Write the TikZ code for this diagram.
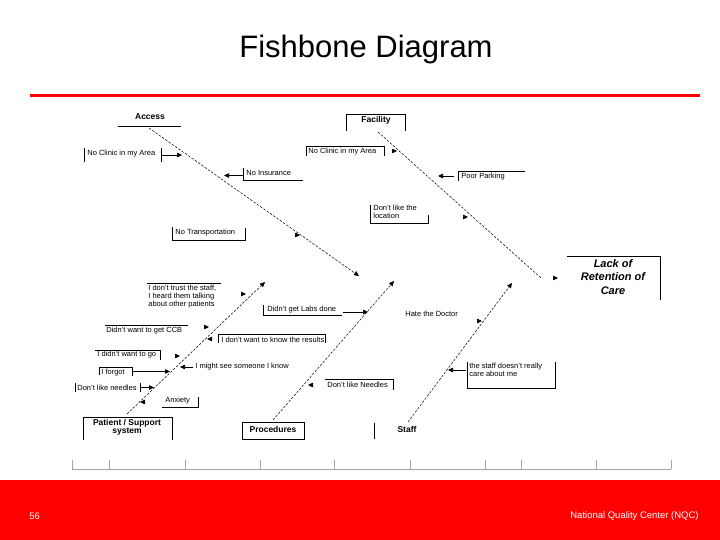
\documentclass[tikz,border=0pt]{standalone}
\usepackage{fontspec}
\setmainfont{Liberation Sans}
\usetikzlibrary{arrows.meta}
\definecolor{nqcred}{RGB}{255,0,0}
\definecolor{axisgray}{RGB}{165,165,165}
\begin{document}
\begin{tikzpicture}[x=1pt,y=-1pt,line width=.7pt,
  spine/.style={line width=.5pt,dash pattern=on 2.5pt off 1.5pt},
  tip/.style={-{Triangle[length=5pt,width=4.5pt]}},
  lbl/.style={anchor=west,inner sep=0pt,align=left,font=\fontsize{7.5}{8}\selectfont},
  bone/.style={inner sep=0pt,align=center,font=\bfseries\fontsize{8.5}{8.5}\selectfont}]
\useasboundingbox (0,0) rectangle (720,540);
\fill[white] (0,0) rectangle (720,540);
\fill[nqcred] (0,480) rectangle (720,540);
\draw[nqcred,line width=3pt] (30,96)--(700,96);
\node[inner sep=0pt,font=\fontsize{31}{34}\selectfont] (title) at (366,49) {Fishbone Diagram};
\node[white,anchor=west,inner sep=0pt,font=\fontsize{9.5}{10}\selectfont] (page) at (29,516) {56};
\node[white,anchor=east,inner sep=0pt,font=\fontsize{9.5}{10}\selectfont] (nqc) at (699,516) {National Quality Center (NQC)};
% spines
\coordinate (accS) at (149,128);
\coordinate (accE) at (359,276);
\coordinate (facS) at (378,132);
\coordinate (facE) at (541,278);
\coordinate (patS) at (127,414);
\coordinate (patE) at (265,282);
\coordinate (proS) at (273,420);
\coordinate (proE) at (394,281);
\coordinate (staS) at (408,422);
\coordinate (staE) at (512,283);
\draw[spine,tip] (accS)--(accE);
\draw[spine] (facS)--(facE);
\draw[spine,tip] (patS)--(patE);
\draw[spine,tip] (proS)--(proE);
\draw[spine,tip] (staS)--(staE);
% effect
\draw (567,256)--(660,256)--(660,300);
\node[inner sep=0pt,align=center,font=\bfseries\itshape\fontsize{11}{13.5}\selectfont] (effect) at (613,277) {Lack of\\Retention of\\Care};
\coordinate (headTip) at (558,278);
\draw[tip] ([xshift=-2pt]headTip)--(headTip);
% access
\node[bone] (access) at (150,117) {Access};
\draw (118,126)--(181,126);
\node[lbl] (clinicA) at (87,154) {No Clinic in my Area};
\draw (84,148)--(84,162);
\draw (161,148)--(161,162);
\coordinate (clinicAout) at (161,155);
\coordinate (clinicAin) at (182,155);
\draw[tip] (clinicAout)--(clinicAin);
\node[lbl] (insurance) at (246,173) {No Insurance};
\draw (243,168)--(243,180)--(303,180);
\coordinate (insOut) at (243,175.5);
\coordinate (insIn) at (224,175.5);
\draw[tip] (insOut)--(insIn);
\node[lbl] (transport) at (175,233) {No Transportation};
\draw (172,227)--(172,240)--(245,240)--(245,228);
\coordinate (transTip) at (300,235);
\draw[tip] ([xshift=-2pt]transTip)--(transTip);
% facility
\draw (346,131)--(346,114)--(405,114)--(405,131);
\node[bone] (facility) at (376,120.5) {Facility};
\node[lbl] (clinicF) at (308,151.5) {No Clinic in my Area};
\draw (306,156)--(306,146)--(384,146)--(384,156);
\coordinate (clinicFTip) at (397,151);
\draw[tip] ([xshift=-2pt]clinicFTip)--(clinicFTip);
\node[lbl] (parking) at (461,176.5) {Poor Parking};
\draw (458,181)--(458,171)--(525,171);
\coordinate (parkOut) at (454,176);
\coordinate (parkIn) at (438,176);
\draw[tip] (parkOut)--(parkIn);
\node[lbl,anchor=north west] (location) at (373,205) {Don't like the\\location};
\draw (370,205)--(370,223)--(428,223)--(428,215);
\coordinate (locTip) at (468,217);
\draw[tip] ([xshift=-2pt]locTip)--(locTip);
% patient / support
\draw (83,440)--(83,417)--(172,417)--(172,440);
\node[bone] (patient) at (127,427.5) {Patient / Support\\system};
\node[lbl,anchor=north west] (trust) at (148,285) {I don't trust the staff,\\I heard them talking\\about other patients};
\draw (147,283)--(221,283);
\coordinate (trustTip) at (246,294);
\draw[tip] ([xshift=-2pt]trustTip)--(trustTip);
\node[lbl] (ccb) at (106,330.5) {Didn't want to get CCB};
\draw (105,325)--(188,325);
\coordinate (ccbTip) at (209,327);
\draw[tip] ([xshift=-2pt]ccbTip)--(ccbTip);
\node[lbl] (results) at (221,339.5) {I don't want to know the results};
\draw (218,343)--(218,334)--(325,334)--(325,343);
\coordinate (resTip) at (207,339);
\draw[tip] ([xshift=2pt]resTip)--(resTip);
\node[lbl] (wantgo) at (97,355) {I didn't want to go};
\draw (95,350)--(160,350)--(160,360);
\coordinate (goTip) at (180,356);
\draw[tip] ([xshift=-2pt]goTip)--(goTip);
\node[lbl] (forgot) at (101,372.5) {I forgot};
\draw (99,375)--(99,367)--(132,367)--(132,376);
\coordinate (forgotOut) at (132,371.5);
\coordinate (forgotIn) at (170,371.5);
\draw[tip] (forgotOut)--(forgotIn);
\node[lbl] (someone) at (195,367) {I might see someone I know};
\coordinate (someOut) at (193,367);
\coordinate (someIn) at (180,367);
\draw[tip] (someOut)--(someIn);
\node[lbl] (needlesP) at (77,387.5) {Don't like needles};
\draw (75,383)--(75,392);
\draw (140,383)--(140,392);
\coordinate (needPOut) at (140,387.5);
\coordinate (needPIn) at (154,387.5);
\draw[tip] (needPOut)--(needPIn);
\node[lbl] (anxiety) at (165,401) {Anxiety};
\draw (162,407)--(198,407)--(198,397);
\coordinate (anxTip) at (140,402);
\draw[tip] ([xshift=2pt]anxTip)--(anxTip);
% procedures
\draw (242,422) rectangle (304,439);
\node[bone] (procedures) at (273,429.5) {Procedures};
\node[lbl] (labs) at (267,309.5) {Didn't get Labs done};
\draw (263,305)--(263,315)--(342,315);
\coordinate (labsOut) at (343,312);
\coordinate (labsIn) at (368,312);
\draw[tip] (labsOut)--(labsIn);
\node[lbl] (needlesR) at (327,384.5) {Don't like Needles};
\draw (325,379)--(393,379)--(393,390);
\coordinate (needRTip) at (308,385);
\draw[tip] ([xshift=2pt]needRTip)--(needRTip);
% staff
\draw (374,423)--(374,439);
\node[bone] (staff) at (407,429.5) {Staff};
\node[lbl] (doctor) at (405,313.5) {Hate the Doctor};
\coordinate (docTip) at (482,321);
\draw[tip] ([xshift=-2pt]docTip)--(docTip);
\node[lbl,anchor=north west] (care) at (469,362.5) {the staff doesn't really\\care about me};
\draw (467,362)--(467,388)--(555,388)--(555,362);
\coordinate (careOut) at (466,370);
\coordinate (careIn) at (448,370);
\draw[tip] (careOut)--(careIn);
% scale
\draw[axisgray,line width=.7pt] (72,469)--(671,469);
\foreach \tx in {72,109,185,260,334,410,485,521,596,671}
  \draw[axisgray,line width=.7pt] (\tx,469)--(\tx,460);
\end{tikzpicture}
\end{document}
